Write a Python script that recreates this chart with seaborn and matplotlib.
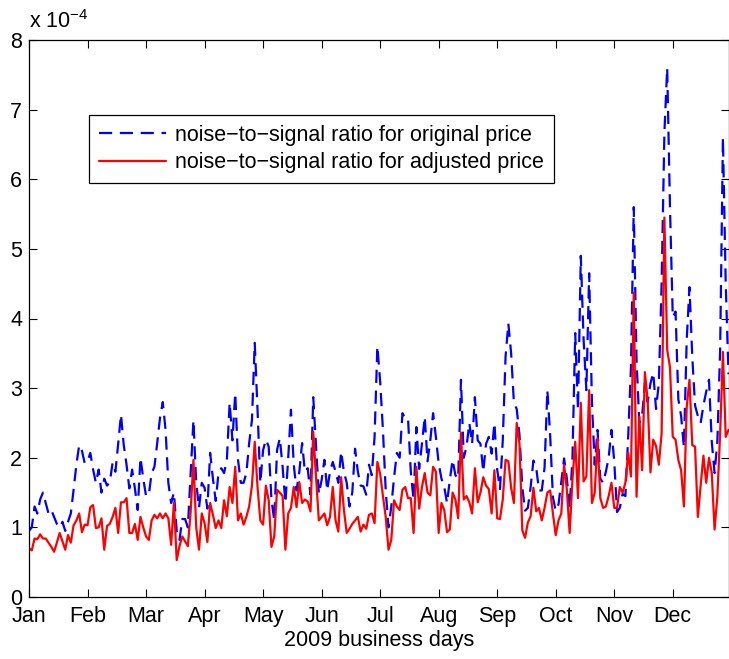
import matplotlib
matplotlib.use("Agg")
import matplotlib.pyplot as plt
import numpy as np
import pandas as pd
import seaborn as sns

# Month tick labels (one tick every 21 business days)
months = ["Jan", "Feb", "Mar", "Apr", "May", "Jun",
          "Jul", "Aug", "Sep", "Oct", "Nov", "Dec"]

# Noise-to-signal ratio for the original price (units of 1e-4), month by month
original_jan = [0.95, 1.00, 1.30, 1.20, 1.40, 1.50, 1.35, 1.20, 1.25, 1.15, 1.05, 1.00, 1.08, 0.95, 1.08, 1.20, 1.54, 1.90, 2.18, 2.10, 1.92]
original_feb = [1.95, 2.07, 1.83, 1.64, 1.83, 1.50, 1.70, 1.60, 1.65, 1.93, 1.80, 2.20, 2.62, 2.18, 1.90, 1.56, 1.83, 1.56, 1.25, 2.00, 1.70]
original_mar = [1.45, 1.47, 1.78, 1.87, 2.21, 2.57, 2.80, 2.40, 1.64, 1.35, 1.50, 0.95, 0.82, 1.12, 1.12, 1.00, 1.78, 2.54, 1.64, 1.28, 1.64]
original_apr = [1.57, 1.27, 2.07, 1.70, 1.38, 1.78, 1.85, 1.78, 1.97, 2.79, 2.25, 2.93, 1.97, 1.64, 1.64, 1.78, 2.21, 2.54, 3.65, 2.69, 1.64]
original_may = [2.11, 2.26, 2.16, 1.40, 1.10, 2.11, 2.28, 1.87, 1.35, 1.99, 2.69, 1.90, 1.53, 1.80, 2.21, 1.80, 1.85, 1.47, 2.87, 2.16, 1.48]
original_jun = [1.68, 1.97, 1.53, 1.80, 1.94, 1.80, 1.64, 2.09, 1.80, 1.64, 1.30, 1.50, 2.13, 1.80, 1.60, 1.59, 1.47, 1.90, 1.75, 2.30, 3.60]
original_jul = [3.10, 2.40, 1.53, 1.00, 1.30, 1.72, 2.07, 2.00, 2.64, 2.57, 2.57, 1.80, 1.39, 2.44, 1.84, 2.20, 2.59, 1.95, 2.25, 2.64, 2.30]
original_aug = [1.92, 1.70, 1.58, 1.35, 1.68, 1.97, 1.75, 1.70, 3.12, 2.00, 2.16, 2.50, 2.20, 2.87, 2.25, 2.20, 1.80, 2.20, 2.30, 2.06, 2.50]
original_sep = [1.83, 1.55, 2.25, 3.45, 3.93, 3.50, 2.79, 2.70, 2.33, 1.58, 1.24, 1.28, 1.58, 1.96, 1.86, 1.53, 1.53, 1.86, 2.97, 2.33, 1.43]
original_oct = [1.24, 1.33, 1.65, 1.99, 1.70, 1.28, 1.99, 3.79, 2.69, 4.90, 3.70, 2.97, 4.65, 2.79, 1.90, 2.40, 1.70, 1.64, 1.80, 2.00, 2.40]
original_nov = [1.95, 1.22, 1.28, 1.48, 1.45, 2.30, 3.30, 5.60, 3.40, 2.50, 2.60, 3.07, 2.80, 3.07, 3.22, 2.70, 3.07, 4.50, 6.67, 7.60, 5.60]
original_dec = [4.02, 4.10, 2.84, 2.60, 2.15, 3.69, 4.45, 3.45, 2.75, 2.60, 2.50, 2.75, 2.95, 3.12, 2.23, 1.78, 2.23, 3.55, 6.60, 4.50, 3.20]

# Noise-to-signal ratio for the adjusted price (units of 1e-4)
adjusted_jan = [0.70, 0.67, 0.84, 0.83, 0.90, 0.84, 0.84, 0.78, 0.72, 0.65, 0.78, 0.92, 0.80, 0.68, 0.89, 0.78, 1.03, 1.10, 1.20, 0.93, 1.04]
adjusted_feb = [1.03, 1.29, 1.32, 0.99, 1.00, 1.13, 0.68, 1.02, 1.05, 1.15, 1.28, 0.92, 1.36, 1.36, 1.42, 0.92, 0.92, 1.05, 0.82, 1.15, 1.00]
adjusted_mar = [0.87, 0.82, 1.10, 1.18, 1.13, 1.20, 1.13, 1.20, 1.13, 0.75, 1.35, 0.53, 0.73, 0.87, 0.80, 0.73, 1.22, 1.97, 1.00, 0.68, 1.20]
adjusted_apr = [1.06, 0.79, 1.35, 1.18, 0.99, 1.10, 0.99, 1.39, 1.16, 1.58, 1.35, 1.87, 1.10, 1.20, 1.04, 1.15, 1.30, 1.60, 2.23, 1.58, 1.10]
adjusted_may = [1.04, 1.60, 1.39, 0.72, 0.87, 1.54, 1.50, 1.45, 0.68, 1.20, 1.28, 1.58, 1.29, 1.65, 1.35, 1.40, 1.37, 1.23, 2.37, 1.72, 1.10]
adjusted_jun = [1.15, 1.20, 1.03, 1.15, 1.58, 1.10, 0.94, 1.72, 1.25, 0.92, 0.98, 1.05, 1.10, 1.15, 0.94, 1.04, 0.98, 1.18, 1.20, 1.06, 1.94]
adjusted_jul = [1.77, 1.45, 1.15, 0.68, 0.82, 1.39, 1.30, 1.25, 1.54, 1.58, 1.42, 1.42, 0.92, 1.87, 1.27, 1.58, 1.78, 1.50, 1.46, 1.87, 1.80]
adjusted_aug = [0.92, 1.35, 1.25, 0.93, 0.97, 1.50, 1.40, 1.13, 2.36, 1.40, 1.45, 1.36, 1.20, 1.85, 1.36, 1.50, 1.72, 1.60, 1.55, 1.20, 1.82]
adjusted_sep = [1.13, 1.12, 1.40, 1.97, 1.95, 1.57, 1.35, 2.50, 2.20, 0.96, 0.85, 1.07, 1.16, 1.57, 1.23, 1.28, 1.10, 1.28, 1.50, 1.53, 1.20]
adjusted_oct = [0.89, 1.10, 1.20, 1.90, 1.54, 0.92, 1.68, 2.23, 1.42, 2.79, 1.66, 1.73, 2.97, 1.35, 1.50, 2.28, 1.42, 1.28, 1.30, 1.45, 1.64]
adjusted_nov = [1.28, 1.28, 1.58, 1.50, 1.64, 2.07, 1.73, 4.37, 1.44, 2.59, 1.82, 3.23, 2.82, 1.79, 2.26, 2.17, 1.90, 2.35, 5.45, 3.55, 3.30]
adjusted_dec = [2.30, 2.26, 1.97, 1.82, 1.30, 2.73, 3.12, 2.18, 2.16, 1.15, 1.60, 2.03, 1.64, 2.00, 1.78, 0.97, 1.44, 2.35, 3.52, 2.30, 2.40]

original = (original_jan + original_feb + original_mar + original_apr + original_may + original_jun
            + original_jul + original_aug + original_sep + original_oct + original_nov + original_dec)
adjusted = (adjusted_jan + adjusted_feb + adjusted_mar + adjusted_apr + adjusted_may + adjusted_jun
            + adjusted_jul + adjusted_aug + adjusted_sep + adjusted_oct + adjusted_nov + adjusted_dec)

days = np.arange(1, len(original) + 1)
df = pd.DataFrame({"day": days, "original": original, "adjusted": adjusted})

sns.set_style("ticks")
plt.rcParams["font.family"] = ["Liberation Sans", "DejaVu Sans"]
plt.rcParams["mathtext.fontset"] = "custom"
plt.rcParams["mathtext.rm"] = "Liberation Sans"
plt.rcParams["mathtext.default"] = "regular"
plt.rcParams["lines.scale_dashes"] = False
plt.rcParams["text.color"] = "black"
plt.rcParams["axes.labelcolor"] = "black"

FS = 15.5

fig = plt.figure(figsize=(7.29, 6.59), dpi=100)
ax = fig.add_axes([29 / 729, 1 - 597 / 659, 699.5 / 729, 557 / 659])

sns.lineplot(data=df, x="day", y="original", ax=ax, color=(0, 0, 1), lw=1.6,
             linestyle="--", label="noise\u2212to\u2212signal ratio for original price")
sns.lineplot(data=df, x="day", y="adjusted", ax=ax, color=(1, 0, 0), lw=1.6,
             label="noise\u2212to\u2212signal ratio for adjusted price")
ax.lines[0].set_dashes((9.5, 5.5))

ax.set_xlim(1, 252)
ax.set_ylim(0, 8)
ax.set_xticks([1 + 21 * k for k in range(12)])
ax.set_xticklabels(months)
ax.set_yticks(range(0, 9))
ax.set_yticklabels([str(v) for v in range(0, 9)])
ax.tick_params(direction="in", top=True, right=True, length=6, width=0.8,
               labelsize=FS, colors="black")
ax.tick_params(axis="y", pad=5)
ax.tick_params(axis="x", pad=6.5)
for sp in ax.spines.values():
    sp.set_visible(True)
    sp.set_linewidth(0.9)
    sp.set_color("black")

ax.set_xlabel("2009 business days", fontsize=FS, labelpad=2, color="black")
ax.set_ylabel("")
ax.text(0.0, 1.012, "x 10$^{\u22124}$", transform=ax.transAxes, ha="left", va="bottom",
        fontsize=FS, color="black")

leg = ax.legend(loc="upper left", bbox_to_anchor=(0.0857, 0.8654), borderaxespad=0,
                fontsize=FS, frameon=True, fancybox=False, framealpha=1,
                edgecolor="black", handlelength=3.15, handletextpad=0.4,
                labelspacing=0.3, borderpad=0.45)
leg.get_frame().set_linewidth(0.9)
for t in leg.get_texts():
    t.set_color("black")

fig.savefig("out.png", dpi=100, facecolor="white")
